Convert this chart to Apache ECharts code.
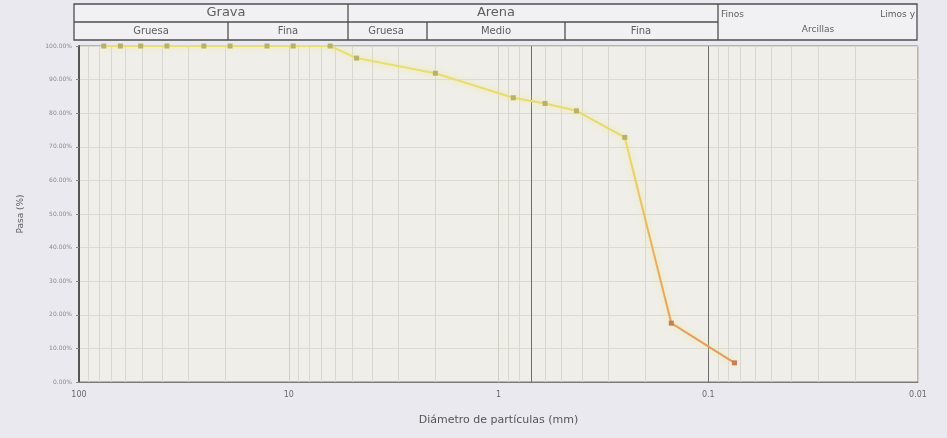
<!DOCTYPE html>
<html>
<head>
<meta charset="utf-8">
<script src="https://cdn.jsdelivr.net/npm/echarts@6/dist/echarts.min.js"></script>
<style>
  html, body { margin: 0; padding: 0; background: #ebe9f0; }
  #chart { width: 947px; height: 438px; }
</style>
</head>
<body>
<div id="chart"></div>
<script>
// Sieve openings (mm) and percent passing for the grading curve
const sieveSizes = [76.2, 63.5, 50.8, 38.1, 25.4, 19.05, 12.7, 9.525, 6.35, 4.75, 2.0, 0.85, 0.6, 0.425, 0.25, 0.15, 0.075];
const passing    = [100, 100, 100, 100, 100, 100, 100, 100, 100, 96.4, 91.9, 84.6, 82.9, 80.7, 72.8, 17.5, 5.7];

// Classification header (soil fractions)
const groupLabels = ['Grava', 'Arena'];
const subLabels = ['Gruesa', 'Fina', 'Gruesa', 'Medio', 'Fina'];
const finesLabels = ['Finos', 'Limos y', 'Arcillas'];

// Axis texts
const xAxisTitle = 'Diámetro de partículas (mm)';
const yAxisTitle = 'Pasa (%)';

// Log-paper minor gridlines: 2..9 within each decade
const minorValues = [];
[0.01, 0.1, 1, 10].forEach(dec => {
  for (let m = 2; m <= 9; m++) minorValues.push(+(dec * m).toPrecision(3));
});
const accentLines = [0.7, 0.1];

const chart = echarts.init(document.getElementById('chart'), null, { renderer: 'canvas' });

const font = 'DejaVu Sans';
const textGrey = '#5e5e5e';

function headerGraphic() {
  const line = (x1, y1, x2, y2) => ({
    type: 'line', shape: { x1, y1, x2, y2 },
    style: { stroke: '#4f4f4f', lineWidth: 1.3 }, silent: true
  });
  const txt = (x, y, t, size, align) => ({
    type: 'text', x, y,
    style: { text: t, fill: textGrey, font: size + 'px "' + font + '"', textAlign: align || 'center', textVerticalAlign: 'middle' },
    silent: true
  });
  return [
    { type: 'rect', shape: { x: 74, y: 4, width: 843, height: 36 },
      style: { fill: '#f1f0f3', stroke: '#4f4f4f', lineWidth: 1.3 }, silent: true },
    line(74, 22, 718, 22),
    line(348, 4, 348, 40),
    line(718, 4, 718, 40),
    line(228, 22, 228, 40),
    line(427, 22, 427, 40),
    line(565, 22, 565, 40),
    txt(226, 13, groupLabels[0], 13),
    txt(496, 13, groupLabels[1], 13),
    txt(151, 31, subLabels[0], 10),
    txt(288, 31, subLabels[1], 10),
    txt(386, 31, subLabels[2], 10),
    txt(496, 31, subLabels[3], 10),
    txt(641, 31, subLabels[4], 10),
    txt(721, 15, finesLabels[0], 9, 'left'),
    txt(915, 15, finesLabels[1], 9, 'right'),
    txt(818, 30, finesLabels[2], 9)
  ];
}

const curveData = sieveSizes.map((d, i) => ({
  value: [d, passing[i]],
  itemStyle: { color: passing[i] < 50 ? '#c47e58' : '#b9b166' }
}));

const option = {
  backgroundColor: '#ebe9f0',
  animation: false,
  grid: {
    left: 79, right: 29, top: 46, bottom: 56,
    show: true, backgroundColor: '#efeee8', borderColor: '#7a7a7a', borderWidth: 1
  },
  xAxis: {
    type: 'log',
    logBase: 10,
    min: 0.01,
    max: 100,
    inverse: true,
    name: xAxisTitle,
    nameLocation: 'middle',
    nameGap: 33,
    nameTextStyle: { color: '#555', fontSize: 11, fontFamily: font },
    axisLine: { show: true, lineStyle: { color: '#7a7a7a', width: 1 } },
    axisTick: { show: false },
    axisLabel: {
      color: '#6a6a6a', fontSize: 8, fontFamily: font, margin: 9,
      formatter: v => String(parseFloat(Number(v).toPrecision(6)))
    },
    splitLine: { show: true, lineStyle: { color: '#cfcfc8', width: 1 } }
  },
  yAxis: {
    type: 'value',
    min: 0,
    max: 100,
    interval: 10,
    name: yAxisTitle,
    nameLocation: 'middle',
    nameGap: 54,
    nameRotate: 90,
    nameTextStyle: { color: '#5e5e5e', fontSize: 9, fontFamily: font },
    axisLine: { show: true, lineStyle: { color: '#555', width: 2 } },
    axisTick: { show: true, length: 3, lineStyle: { color: '#888' } },
    axisLabel: {
      color: '#8a8a8a', fontSize: 6, fontFamily: font, margin: 7,
      formatter: v => v.toFixed(2) + '%'
    },
    splitLine: { show: true, lineStyle: { color: '#dadad3', width: 1 } }
  },
  graphic: headerGraphic(),
  series: [
    {
      type: 'line',
      data: curveData,
      symbol: 'rect',
      symbolSize: 5,
      z: 5,
      lineStyle: {
        width: 2,
        color: {
          type: 'linear', x: 0, y: 0, x2: 0, y2: 1,
          colorStops: [
            { offset: 0, color: '#e6df74' },
            { offset: 0.35, color: '#e8d670' },
            { offset: 0.6, color: '#e9b266' },
            { offset: 1, color: '#e39a5e' }
          ]
        },
        shadowColor: 'rgba(240, 232, 130, 0.9)',
        shadowBlur: 6
      },
      markLine: {
        silent: true,
        symbol: 'none',
        label: { show: false },
        z: 1,
        data: minorValues.map(v => ({
          xAxis: v,
          lineStyle: {
            color: accentLines.includes(v) ? '#6f6f6f' : '#d8d8d1',
            width: 1, type: 'solid'
          }
        })).concat(accentLines.filter(v => !minorValues.includes(v)).map(v => ({
          xAxis: v, lineStyle: { color: '#6f6f6f', width: 1, type: 'solid' }
        })))
      }
    }
  ]
};

chart.setOption(option);
</script>
</body>
</html>
